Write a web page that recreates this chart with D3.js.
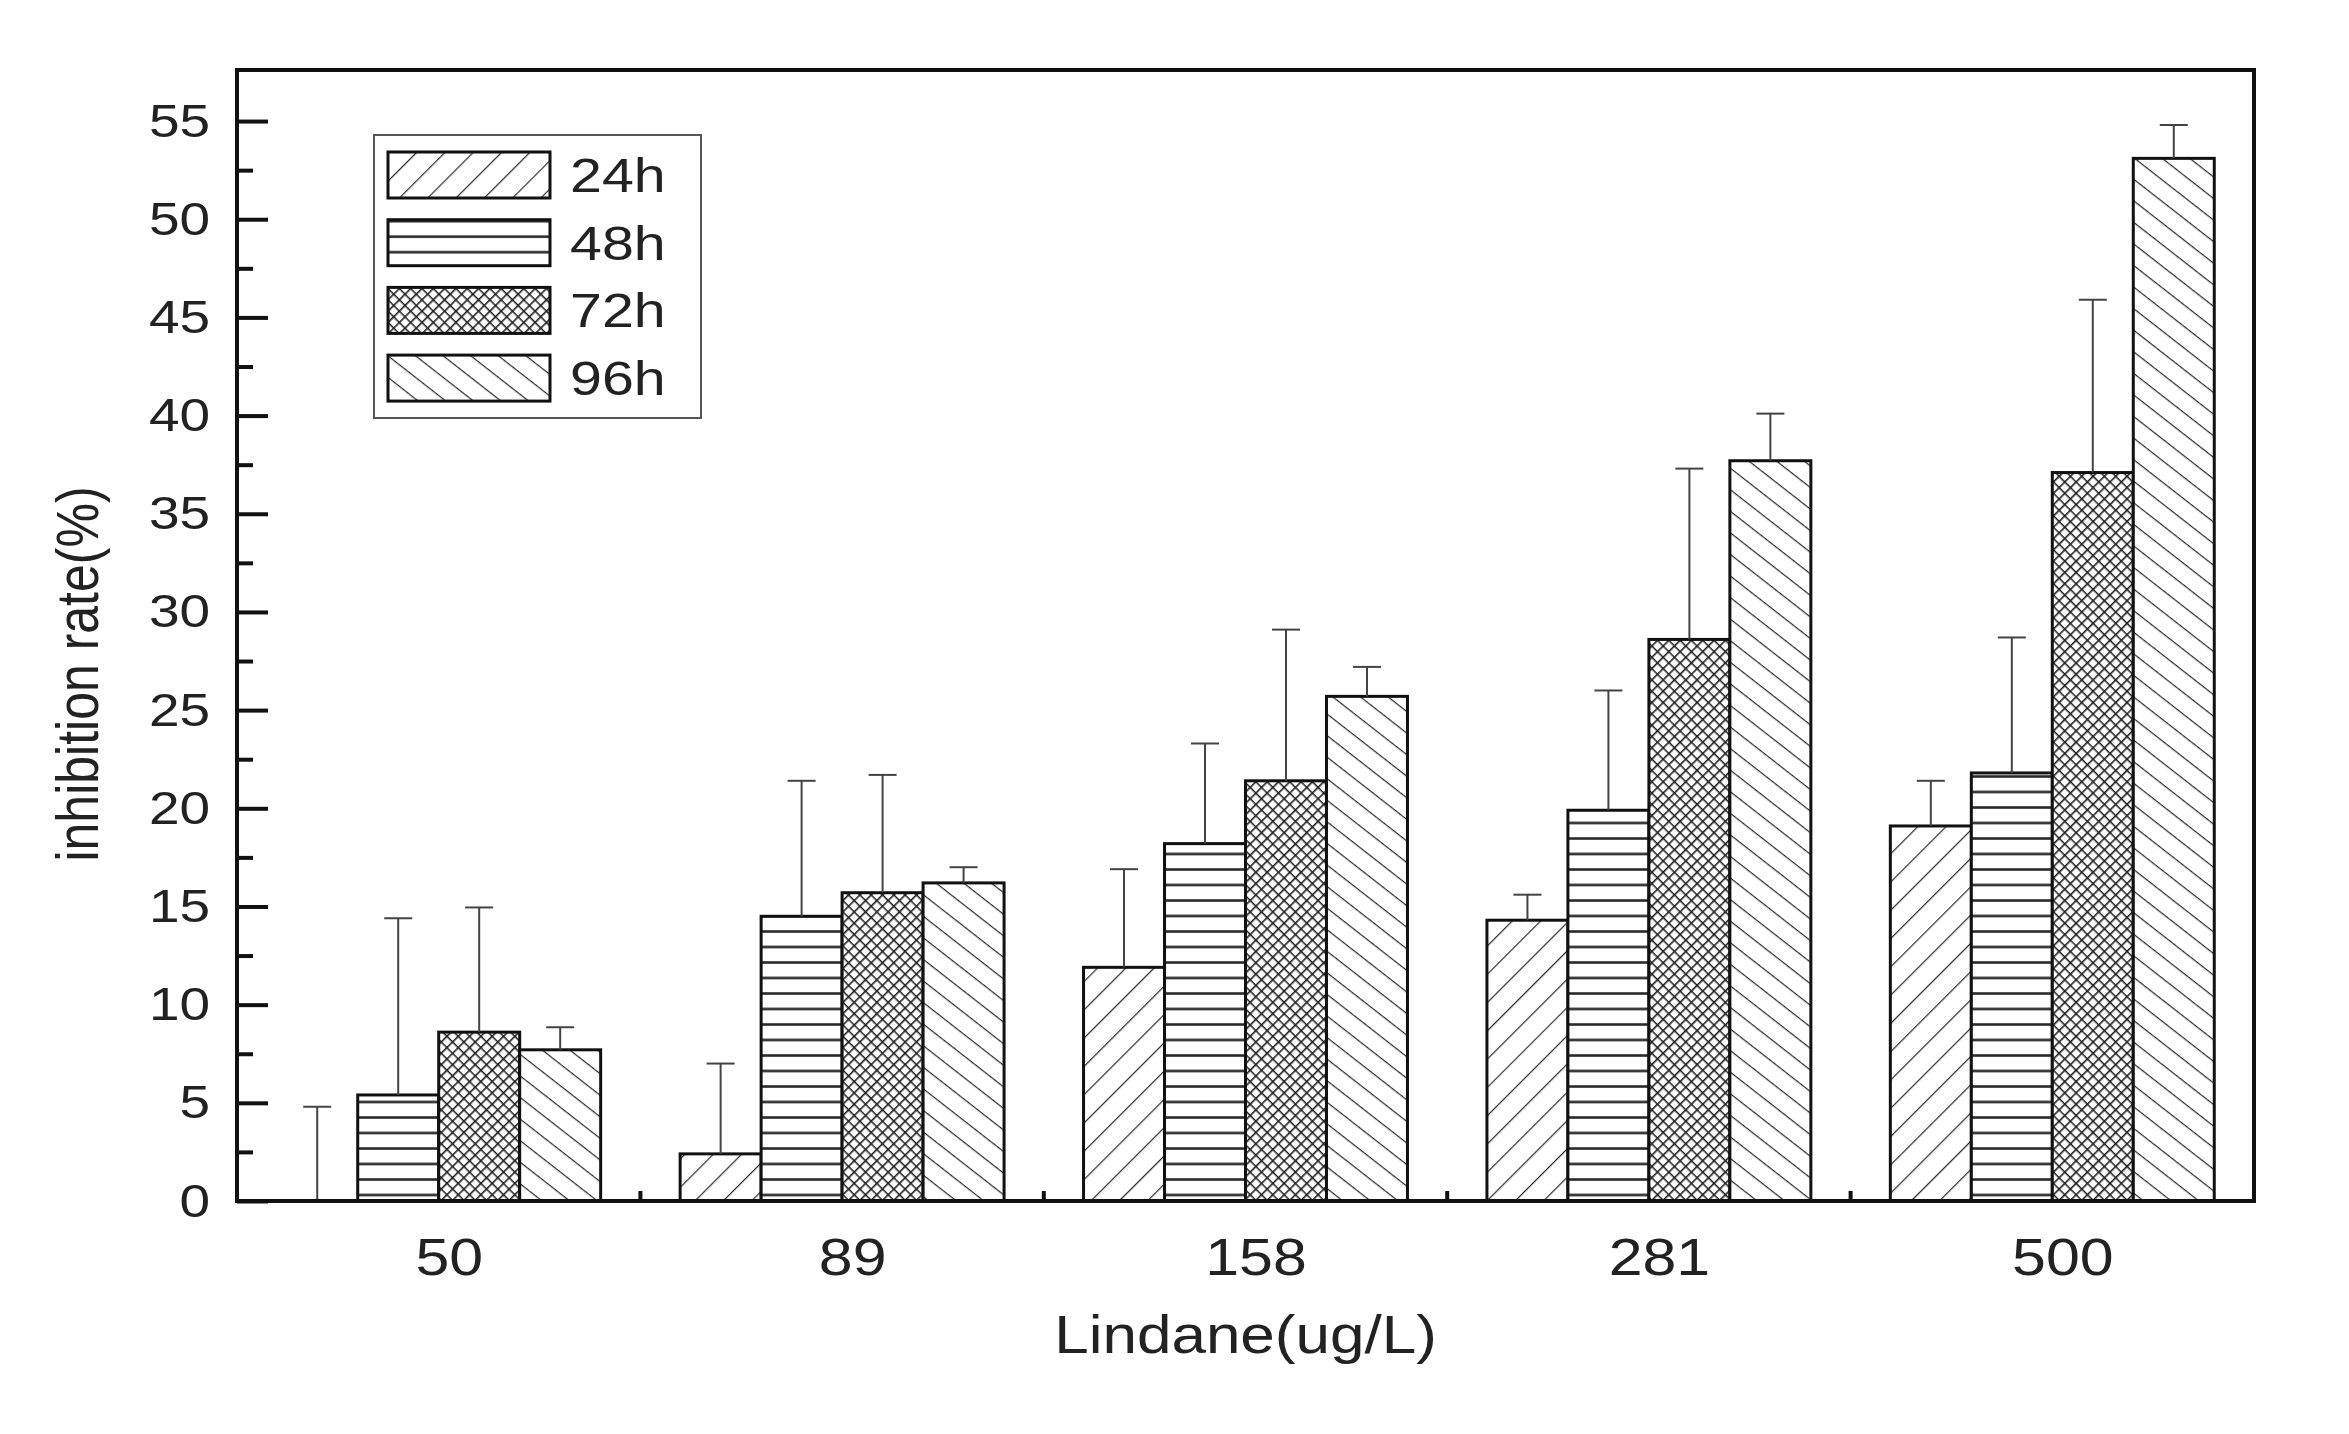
<!DOCTYPE html>
<html>
<head>
<meta charset="utf-8">
<script src="https://cdn.jsdelivr.net/npm/d3@7"></script>
<style>
  html, body { margin: 0; padding: 0; background: #fff; }
  svg { display: block; }
  text { font-family: "Liberation Sans", Arial, sans-serif; fill: #222; }
</style>
</head>
<body>
<svg id="chart" width="2349" height="1434"></svg>
<script>
// ---- data ----
const categories = ["50", "89", "158", "281", "500"];
const seriesNames = ["24h", "48h", "72h", "96h"];
const values24 = [0, 2.4, 11.9, 14.3, 19.1];
const values48 = [5.4, 14.5, 18.2, 19.9, 21.8];
const values72 = [8.6, 15.7, 21.4, 28.6, 37.1];
const values96 = [7.7, 16.2, 25.7, 37.7, 53.1];
const errors24 = [4.8, 4.6, 5.0, 1.3, 2.3];
const errors48 = [9.0, 6.9, 5.1, 6.1, 6.9];
const errors72 = [6.35, 6.0, 7.7, 8.7, 8.8];
const errors96 = [1.15, 0.8, 1.5, 2.4, 1.7];
const yMajorTicks = [0, 5, 10, 15, 20, 25, 30, 35, 40, 45, 50, 55];
const yMinorTicks = [2.5, 7.5, 12.5, 17.5, 22.5, 27.5, 32.5, 37.5, 42.5, 47.5, 52.5];
const xTitle = "Lindane(ug/L)";
const yTitle = "inhibition rate(%)";

const seriesValues = [values24, values48, values72, values96];
const seriesErrors = [errors24, errors48, errors72, errors96];

// ---- layout ----
const L = 237, R = 2254, T = 70, B = 1201;
const SX = 1.17; // horizontal text stretch seen in the reference

const svg = d3.select("#chart");
svg.append("rect").attr("width", 2349).attr("height", 1434).attr("fill", "#fff");

// ---- patterns ----
const defs = svg.append("defs");
const ink = "#2a2a2a";
// 24h: "/" hatch
const p24 = defs.append("pattern").attr("id", "p24").attr("patternUnits", "userSpaceOnUse")
  .attr("width", 20).attr("height", 20).attr("patternTransform", "rotate(45)");
p24.append("rect").attr("width", 20).attr("height", 20).attr("fill", "#fff");
p24.append("line").attr("x1", 0).attr("y1", 0).attr("x2", 0).attr("y2", 20)
  .attr("stroke", ink).attr("stroke-width", 2.4);
// 48h: horizontal lines
const p48 = defs.append("pattern").attr("id", "p48").attr("patternUnits", "userSpaceOnUse")
  .attr("width", 20).attr("height", 15.5);
p48.append("rect").attr("width", 20).attr("height", 15.5).attr("fill", "#fff");
p48.append("line").attr("x1", 0).attr("y1", 1.5).attr("x2", 20).attr("y2", 1.5)
  .attr("stroke", ink).attr("stroke-width", 2.6);
// 72h: fine crosshatch
const p72 = defs.append("pattern").attr("id", "p72").attr("patternUnits", "userSpaceOnUse")
  .attr("width", 8).attr("height", 8).attr("patternTransform", "rotate(45)");
p72.append("rect").attr("width", 8).attr("height", 8).attr("fill", "#fff");
p72.append("path").attr("d", "M0,0 L8,0 M0,0 L0,8")
  .attr("stroke", "#1e1e1e").attr("stroke-width", 3.2);
// 96h: "\" hatch
const p96 = defs.append("pattern").attr("id", "p96").attr("patternUnits", "userSpaceOnUse")
  .attr("width", 20).attr("height", 17).attr("patternTransform", "rotate(38)");
p96.append("rect").attr("width", 20).attr("height", 17).attr("fill", "#fff");
p96.append("line").attr("x1", 0).attr("y1", 0).attr("x2", 20).attr("y2", 0)
  .attr("stroke", ink).attr("stroke-width", 2.4);

const fills = ["url(#p24)", "url(#p48)", "url(#p72)", "url(#p96)"];

// ---- scales ----
const x0 = d3.scaleBand().domain(categories).range([L, R])
  .paddingInner(0.197).paddingOuter(0.0985);
const x1 = d3.scaleBand().domain(seriesNames).range([0, x0.bandwidth()]).padding(0);
const y = d3.scaleLinear().domain([0, 57.6]).range([B, T]);

// ---- bars ----
const rows = [];
categories.forEach((c, i) => {
  seriesNames.forEach((s, j) => {
    rows.push({ cat: c, ser: s, j: j, v: seriesValues[j][i], e: seriesErrors[j][i] });
  });
});

const gBars = svg.append("g");
gBars.selectAll("rect").data(rows).join("rect")
  .attr("x", d => x0(d.cat) + x1(d.ser))
  .attr("y", d => y(d.v))
  .attr("width", x1.bandwidth())
  .attr("height", d => y(0) - y(d.v))
  .attr("fill", d => fills[d.j])
  .attr("stroke", "#111").attr("stroke-width", 3);

// ---- error bars (upper only) ----
const gErr = svg.append("g").attr("stroke", "#444").attr("stroke-width", 2);
const cx = d => x0(d.cat) + x1(d.ser) + x1.bandwidth() / 2;
gErr.selectAll("line.v").data(rows).join("line").attr("class", "v")
  .attr("x1", cx).attr("x2", cx)
  .attr("y1", d => y(d.v)).attr("y2", d => y(d.v + d.e));
gErr.selectAll("line.c").data(rows).join("line").attr("class", "c")
  .attr("x1", d => cx(d) - 14).attr("x2", d => cx(d) + 14)
  .attr("y1", d => y(d.v + d.e)).attr("y2", d => y(d.v + d.e));

// ---- frame ----
svg.append("rect").attr("x", L).attr("y", T).attr("width", R - L).attr("height", B - T)
  .attr("fill", "none").attr("stroke", "#111").attr("stroke-width", 4);

// ---- y axis ----
const yAxis = svg.append("g").attr("transform", `translate(${L},0)`)
  .call(d3.axisLeft(y).tickValues(yMajorTicks).tickSize(-31).tickPadding(23).tickFormat(d3.format("d")));
yAxis.select(".domain").remove();
yAxis.selectAll(".tick line").attr("stroke", "#111").attr("stroke-width", 4);
yAxis.selectAll(".tick text").attr("font-size", 47)
  .attr("font-family", "Liberation Sans, Arial, sans-serif").attr("fill", "#222")
  .attr("transform", `scale(${SX},1)`);
const yMinor = svg.append("g").attr("transform", `translate(${L},0)`)
  .call(d3.axisLeft(y).tickValues(yMinorTicks).tickSize(-16).tickFormat(""));
yMinor.select(".domain").remove();
yMinor.selectAll(".tick line").attr("stroke", "#111").attr("stroke-width", 4);

// ---- x axis ----
const xAxis = svg.append("g").attr("transform", `translate(0,${B})`)
  .call(d3.axisBottom(x0).tickSize(0).tickPadding(37));
xAxis.select(".domain").remove();
xAxis.selectAll(".tick text").attr("font-size", 52)
  .attr("font-family", "Liberation Sans, Arial, sans-serif").attr("fill", "#222")
  .attr("dx", 9)
  .attr("transform", `scale(${SX},1)`);
// group boundary ticks (inward)
const bounds = categories.slice(1).map(c => x0(c) - x0.step() * x0.paddingInner() / 2);
svg.append("g").selectAll("line").data(bounds).join("line")
  .attr("x1", d => d).attr("x2", d => d).attr("y1", B).attr("y2", B - 10)
  .attr("stroke", "#111").attr("stroke-width", 4);

// ---- titles ----
svg.append("text")
  .attr("transform", `translate(${(L + R) / 2},1353) scale(${SX},1)`)
  .attr("text-anchor", "middle").attr("font-size", 53).text(xTitle);
svg.append("text")
  .attr("transform", `translate(98,674) rotate(-90) scale(1,${SX})`)
  .attr("text-anchor", "middle").attr("font-size", 50).text(yTitle);

// ---- legend ----
const lg = svg.append("g");
lg.append("rect").attr("x", 374).attr("y", 135).attr("width", 327).attr("height", 283)
  .attr("fill", "#fff").attr("stroke", "#555").attr("stroke-width", 2);
const items = lg.selectAll("g.item").data(seriesNames).join("g").attr("class", "item")
  .attr("transform", (d, i) => `translate(388,${152 + i * 67.7})`);
items.append("rect").attr("width", 162).attr("height", 46)
  .attr("fill", (d, i) => fills[i]).attr("stroke", "#111").attr("stroke-width", 3);
items.append("text")
  .attr("transform", `translate(182,40) scale(${SX},1)`)
  .attr("font-size", 49).text(d => d);
</script>
</body>
</html>
